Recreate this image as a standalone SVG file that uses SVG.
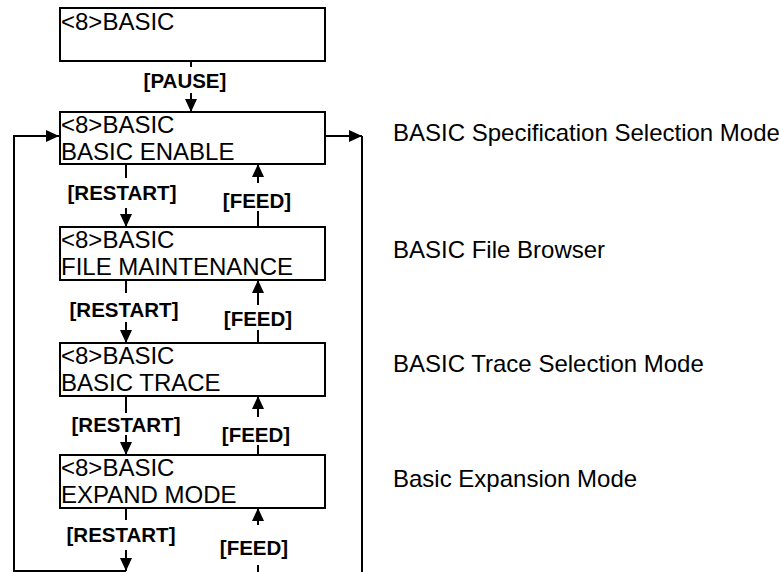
<svg xmlns="http://www.w3.org/2000/svg" width="779" height="572" viewBox="0 0 779 572">
<style>
.box{fill:#fff;stroke:#000;stroke-width:2}
.bt{font-family:"Liberation Sans",Arial,sans-serif;font-size:24px;fill:#000}
.lbl{font-family:"Liberation Sans",Arial,sans-serif;font-size:20.5px;font-weight:bold;fill:#000;text-anchor:middle}
.ln{fill:none;stroke:#000;stroke-width:2}
</style>
<defs>
<marker id="ah" viewBox="0 0 13 12" refX="13" refY="6" markerWidth="13" markerHeight="12" markerUnits="userSpaceOnUse" orient="auto">
<path d="M0,0 L13,6 L0,12 z" fill="#000"/>
</marker>
</defs>
<g id="connectors">
<line class="ln" x1="191" y1="61" x2="191" y2="67"/>
<line class="ln" x1="191" y1="93" x2="191" y2="112" marker-end="url(#ah)"/>
<text class="lbl" x="185" y="88">[PAUSE]</text>
<line class="ln" x1="126" y1="164" x2="126" y2="178"/>
<text class="lbl" x="122" y="200">[RESTART]</text>
<line class="ln" x1="126" y1="208" x2="126" y2="227" marker-end="url(#ah)"/>
<line class="ln" x1="258" y1="227" x2="258" y2="211"/>
<text class="lbl" x="257" y="208">[FEED]</text>
<line class="ln" x1="258" y1="183" x2="258" y2="164" marker-end="url(#ah)"/>
<line class="ln" x1="126" y1="280" x2="126" y2="293"/>
<text class="lbl" x="124" y="317">[RESTART]</text>
<line class="ln" x1="126" y1="322" x2="126" y2="343" marker-end="url(#ah)"/>
<line class="ln" x1="258" y1="343" x2="258" y2="330"/>
<text class="lbl" x="258" y="326">[FEED]</text>
<line class="ln" x1="258" y1="305" x2="258" y2="280" marker-end="url(#ah)"/>
<line class="ln" x1="126" y1="396" x2="126" y2="413"/>
<text class="lbl" x="126" y="432">[RESTART]</text>
<line class="ln" x1="126" y1="435" x2="126" y2="455" marker-end="url(#ah)"/>
<line class="ln" x1="258" y1="455" x2="258" y2="445"/>
<text class="lbl" x="256" y="442">[FEED]</text>
<line class="ln" x1="258" y1="417" x2="258" y2="396" marker-end="url(#ah)"/>
<line class="ln" x1="126" y1="508" x2="126" y2="520"/>
<text class="lbl" x="121" y="542">[RESTART]</text>
<line class="ln" x1="126" y1="550" x2="126" y2="571" marker-end="url(#ah)"/>
<line class="ln" x1="258" y1="572" x2="258" y2="565"/>
<text class="lbl" x="254" y="555">[FEED]</text>
<line class="ln" x1="258" y1="525" x2="258" y2="508" marker-end="url(#ah)"/>
<polyline class="ln" points="126,571 14,571 14,136 59,136" marker-end="url(#ah)"/>
<line class="ln" x1="325" y1="136" x2="362" y2="136" marker-end="url(#ah)"/>
<line class="ln" x1="362" y1="136" x2="362" y2="572"/>
</g>
<g id="n0">
<rect class="box" x="60" y="8" width="265" height="53"/>
<text class="bt" x="61" y="30">&lt;8&gt;BASIC</text>
</g>
<g id="n1">
<rect class="box" x="60" y="112" width="265" height="52"/>
<text class="bt" x="61" y="133">&lt;8&gt;BASIC</text>
<text class="bt" x="61" y="160">BASIC ENABLE</text>
</g>
<g id="n2">
<rect class="box" x="60" y="227" width="265" height="53"/>
<text class="bt" x="61" y="248">&lt;8&gt;BASIC</text>
<text class="bt" x="61" y="275">FILE MAINTENANCE</text>
</g>
<g id="n3">
<rect class="box" x="60" y="343" width="265" height="53"/>
<text class="bt" x="61" y="364">&lt;8&gt;BASIC</text>
<text class="bt" x="61" y="391">BASIC TRACE</text>
</g>
<g id="n4">
<rect class="box" x="60" y="455" width="265" height="53"/>
<text class="bt" x="61" y="476">&lt;8&gt;BASIC</text>
<text class="bt" x="61" y="503">EXPAND MODE</text>
</g>
<g id="desc">
<text class="bt" x="393" y="141">BASIC Specification Selection Mode</text>
<text class="bt" x="393" y="258">BASIC File Browser</text>
<text class="bt" x="393" y="372">BASIC Trace Selection Mode</text>
<text class="bt" x="393" y="487">Basic Expansion Mode</text>
</g>
</svg>
